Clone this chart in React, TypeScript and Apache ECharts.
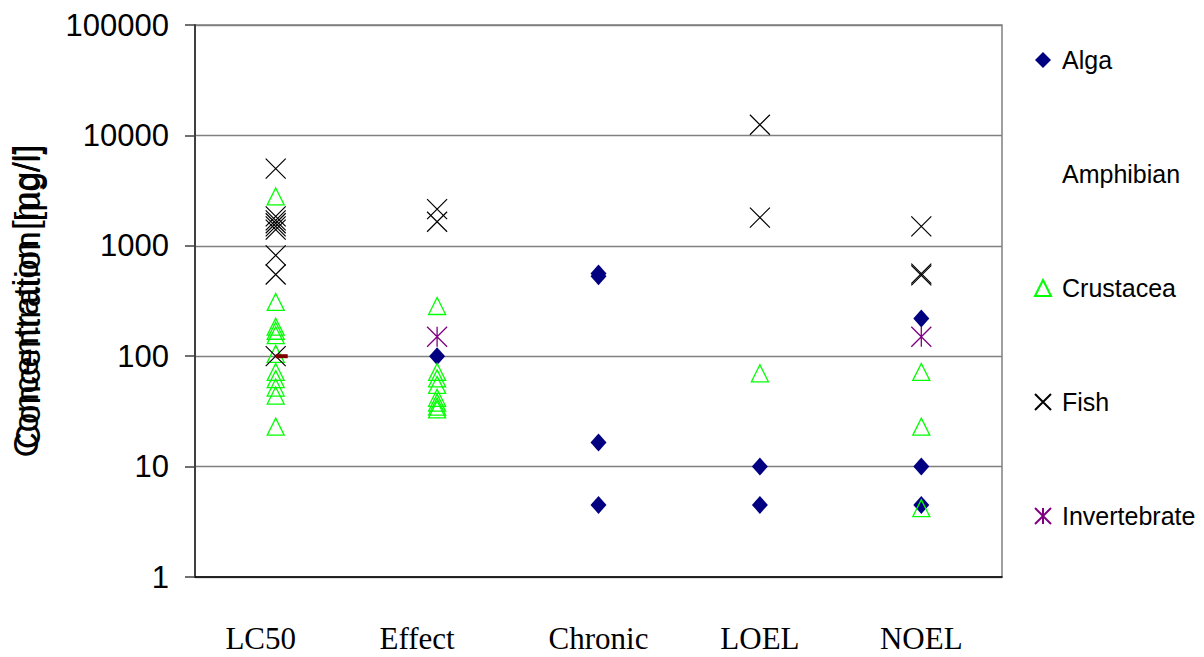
import React, { useEffect, useRef } from "react";
import * as echarts from "echarts";

const categories = ["LC50", "Effect", "Chronic", "LOEL", "NOEL"];
const yTickLabels = ["1", "10", "100", "1000", "10000", "100000"];

const alga: [string, number][] = [
  ["Effect", 100],
  ["Chronic", 560],
  ["Chronic", 530],
  ["Chronic", 16.5],
  ["Chronic", 4.5],
  ["LOEL", 10],
  ["LOEL", 4.5],
  ["NOEL", 220],
  ["NOEL", 10],
  ["NOEL", 4.5],
];

const amphibian: [string, number][] = [["LC50", 100]];

const crustacea: [string, number][] = [
  ["LC50", 2800],
  ["LC50", 310],
  ["LC50", 185],
  ["LC50", 170],
  ["LC50", 155],
  ["LC50", 105],
  ["LC50", 72],
  ["LC50", 62],
  ["LC50", 52],
  ["LC50", 44],
  ["LC50", 23],
  ["Effect", 285],
  ["Effect", 72],
  ["Effect", 63],
  ["Effect", 55],
  ["Effect", 42],
  ["Effect", 38],
  ["Effect", 35],
  ["Effect", 33],
  ["LOEL", 70],
  ["NOEL", 72],
  ["NOEL", 23],
  ["NOEL", 4.2],
];

const fish: [string, number][] = [
  ["LC50", 5000],
  ["LC50", 1850],
  ["LC50", 1700],
  ["LC50", 1600],
  ["LC50", 1500],
  ["LC50", 1400],
  ["LC50", 820],
  ["LC50", 550],
  ["LC50", 100],
  ["Effect", 2150],
  ["Effect", 1650],
  ["LOEL", 12500],
  ["LOEL", 1800],
  ["NOEL", 1500],
  ["NOEL", 560],
  ["NOEL", 540],
];

const invertebrate: [string, number][] = [
  ["Effect", 150],
  ["NOEL", 150],
];

const X_PATH = "path://M0 0L20 20M20 0L0 20";
const AST_PATH = "path://M0 0L20 20M20 0L0 20M10 0L10 20";
const SANS = "'Liberation Sans', Arial, sans-serif";
const SERIF = "'Liberation Serif', 'Times New Roman', serif";

// per-label right padding (label style only) to mimic the reference's label placement
const labelPadRight: Record<string, number> = { LC50: 30, Effect: 40 };

export default function App() {
  const ref = useRef<HTMLDivElement>(null);

  useEffect(() => {
    if (!ref.current) return;
    const chart = echarts.init(ref.current, undefined, { renderer: "svg" });
    const option: any = {
      animation: false,
      backgroundColor: "#ffffff",
      grid: {
        left: 190,
        right: 202,
        top: 25,
        bottom: 80,
        show: true,
        borderColor: "#808080",
        borderWidth: 1.5,
        containLabel: false,
      },
      legend: {
        orient: "vertical",
        left: 1029,
        top: 42,
        itemWidth: 16,
        itemHeight: 16,
        itemGap: 88,
        selectedMode: false,
        textStyle: {
          fontFamily: SANS,
          fontSize: 25,
          color: "#000",
          lineHeight: 26,
          padding: [0, 0, 0, 6],
        },
        data: [
          { name: "Alga" },
          { name: "Amphibian", itemStyle: { opacity: 0 } },
          { name: "Crustacea" },
          { name: "Fish" },
          { name: "Invertebrate" },
        ],
      },
      xAxis: {
        type: "category",
        data: categories.map((c) => ({
          value: c,
          textStyle: { padding: [0, labelPadRight[c] ?? 0, 0, 0] },
        })),
        boundaryGap: true,
        axisLine: { show: true, lineStyle: { color: "#000", width: 1.5 } },
        axisTick: { show: false },
        splitLine: { show: false },
        axisLabel: {
          fontFamily: SERIF,
          fontSize: 31,
          color: "#000",
          margin: 46,
        },
      },
      yAxis: {
        type: "log",
        logBase: 10,
        min: 1,
        max: 100000,
        name: "Concentration [mg/l]",
        nameLocation: "middle",
        nameRotate: 90,
        nameGap: 152,
        nameTextStyle: { fontFamily: SANS, fontSize: 35, color: "#000" },
        axisLine: { show: true, lineStyle: { color: "#404040", width: 2 } },
        axisTick: { show: true, length: 10, lineStyle: { color: "#404040", width: 1.5 } },
        splitLine: { show: true, lineStyle: { color: "#808080", width: 1.3 } },
        axisLabel: {
          fontFamily: SANS,
          fontSize: 31,
          color: "#000",
          margin: 26,
          formatter: (v: number) => {
            const i = Math.round(Math.log10(v));
            return yTickLabels[i] ?? "";
          },
        },
      },
      graphic: [
        {
          type: "text",
          x: 27,
          y: 145,
          rotation: Math.PI / 2,
          style: {
            text: "Concentration [µg/l]",
            fontFamily: SANS,
            fontSize: 35,
            fill: "#000",
            align: "right",
            verticalAlign: "middle",
          },
        },
      ],
      series: [
        {
          name: "Alga",
          type: "scatter",
          data: alga,
          symbol: "diamond",
          symbolSize: [16, 18],
          itemStyle: { color: "#000080", opacity: 1 },
          z: 3,
        },
        {
          name: "Amphibian",
          type: "scatter",
          data: amphibian,
          symbol: "rect",
          symbolSize: [12, 4],
          symbolOffset: [6, 0],
          itemStyle: { color: "#800000", opacity: 1 },
          z: 6,
        },
        {
          name: "Crustacea",
          type: "scatter",
          data: crustacea,
          symbol: "triangle",
          symbolSize: [17, 17],
          itemStyle: { color: "transparent", borderColor: "#00ff00", borderWidth: 1.3, opacity: 1 },
          z: 4,
        },
        {
          name: "Fish",
          type: "scatter",
          data: fish,
          symbol: X_PATH,
          symbolSize: 20,
          itemStyle: { color: "transparent", borderColor: "#000000", borderWidth: 1.2, opacity: 1 },
          z: 5,
        },
        {
          name: "Invertebrate",
          type: "scatter",
          data: invertebrate,
          symbol: AST_PATH,
          symbolSize: 20,
          itemStyle: { color: "transparent", borderColor: "#800080", borderWidth: 1.3, opacity: 1 },
          z: 5,
        },
      ],
    };
    chart.setOption(option);
    return () => chart.dispose();
  }, []);

  return (
    <div
      ref={ref}
      style={{ position: "absolute", left: 0, top: 0, width: 1204, height: 657 }}
    />
  );
}
